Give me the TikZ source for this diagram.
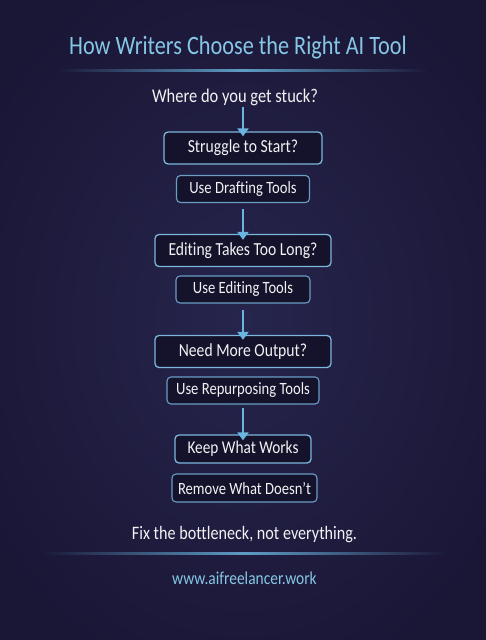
\documentclass[tikz,border=0pt]{standalone}
\usepackage{fontspec}
\setmainfont{Carlito}[FakeStretch=0.85,Ligatures={NoCommon}]
\newfontfamily\titlefont{Carlito}[FakeStretch=0.84,Ligatures={NoCommon}]
\usetikzlibrary{arrows.meta}
\definecolor{bg}{HTML}{1A1636}
\definecolor{bgc}{HTML}{26254C}
\definecolor{titleblue}{HTML}{86C6E6}
\definecolor{lineblue}{HTML}{5E9CC4}
\definecolor{boxfill}{HTML}{14132B}
\definecolor{boxedge}{HTML}{7DB6DC}
\definecolor{smalledge}{HTML}{6A9CC4}
\definecolor{arrowblue}{HTML}{6AB4E0}
\definecolor{txt}{HTML}{F2F2F4}
\tikzset{
  bigbox/.style={draw=boxedge, fill=boxfill, line width=1.3pt, rounded corners=4pt,
    minimum height=32pt, text=txt, font=\fontsize{18.4}{20}\selectfont, inner xsep=6pt},
  smallbox/.style={draw=smalledge, fill=boxfill, line width=1.1pt, rounded corners=4pt,
    minimum height=27pt, text=txt, font=\fontsize{17.2}{19}\selectfont, inner xsep=6pt},
  flow/.style={draw=arrowblue, line width=2.6pt, -{Triangle[length=8pt,width=11pt]}},
}
\begin{document}
\begin{tikzpicture}[x=1pt,y=-1pt]
\useasboundingbox (0,0) rectangle (486,640);
\fill[bg] (0,0) rectangle (486,640);
\shade[inner color=bgc, outer color=bg] (243,320) ellipse (300 and 380);
\node[text=titleblue, font=\titlefont\fontsize{26.5}{29}\selectfont] (title) at (238,48) {How Writers Choose the Right AI Tool};
\shade[left color=bg, right color=bg, middle color=lineblue] (55,69.5) rectangle (430,71);
\node[text=txt, font=\fontsize{19.4}{21}\selectfont] (q) at (235,97) {Where do you get stuck?};
\node[bigbox, minimum width=158pt] (b1) at (243,148) {Struggle to Start?};
\node[smallbox, minimum width=133pt] (b2) at (243,189) {Use Drafting Tools};
\node[bigbox, minimum width=176pt] (b3) at (243,250.5) {Editing Takes Too Long?};
\node[smallbox, minimum width=134pt] (b4) at (243,289.5) {Use Editing Tools};
\node[bigbox, minimum width=176pt] (b5) at (243,351.5) {Need More Output?};
\node[smallbox, minimum width=152pt] (b6) at (243,390.5) {Use Repurposing Tools};
\node[bigbox, minimum width=136pt, minimum height=28pt, font=\fontsize{18}{20}\selectfont] (b7) at (243,449) {Keep What Works};
\node[smallbox, minimum width=135pt, minimum height=28pt] (b8) at (244.5,488) {Remove What Doesn't};
\node[text=txt, font=\fontsize{19}{21}\selectfont] (fix) at (244.5,535) {Fix the bottleneck, not everything.};
\shade[left color=bg, right color=bg, middle color=lineblue] (40,552.5) rectangle (450,554);
\node[text=titleblue, font=\fontsize{18.2}{20}\selectfont] (url) at (244.5,578) {www.aifreelancer.work};
\coordinate (a0) at (243,107);
\draw[flow] (a0) -- ([yshift=-5pt]b1.north);
\draw[flow] (b2.south) ++(0,6) coordinate (a1) (a1) -- ([yshift=-6pt]b3.north);
\draw[flow] (b4.south) ++(0,6) coordinate (a2) (a2) -- ([yshift=-5pt]b5.north);
\draw[flow] (b6.south) ++(0,3) coordinate (a3) (a3) -- ([yshift=-6pt]b7.north);
\end{tikzpicture}
\end{document}
